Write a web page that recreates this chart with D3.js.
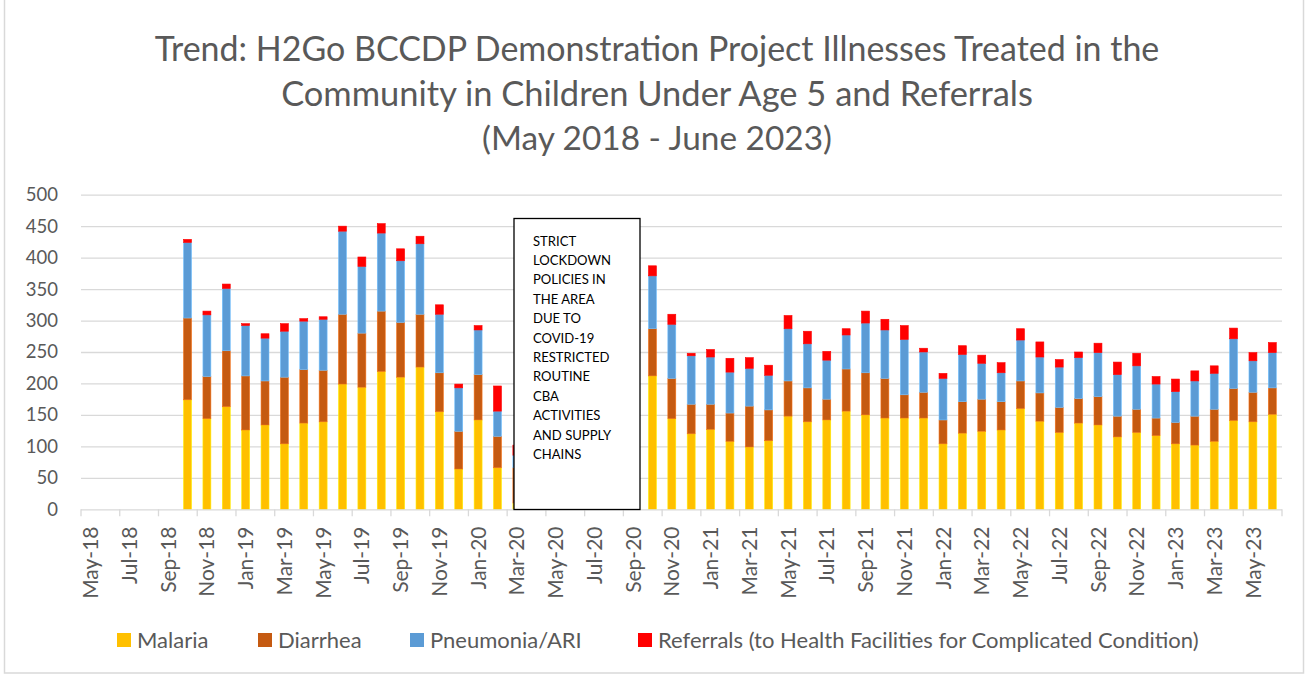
<!DOCTYPE html>
<html>
<head>
<meta charset="utf-8">
<script src="https://cdn.jsdelivr.net/npm/d3@7"></script>
<style>
  html, body { margin: 0; padding: 0; background: #fff; }
  svg { display: block; }
  text { font-family: Lato, "Open Sans", sans-serif; }
</style>
</head>
<body>
<svg id="chart" width="1307" height="677"></svg>
<script>
const months = ["May-18","Jun-18","Jul-18","Aug-18","Sep-18","Oct-18","Nov-18","Dec-18",
  "Jan-19","Feb-19","Mar-19","Apr-19","May-19","Jun-19","Jul-19","Aug-19","Sep-19","Oct-19","Nov-19","Dec-19",
  "Jan-20","Feb-20","Mar-20","Apr-20","May-20","Jun-20","Jul-20","Aug-20","Sep-20","Oct-20","Nov-20","Dec-20",
  "Jan-21","Feb-21","Mar-21","Apr-21","May-21","Jun-21","Jul-21","Aug-21","Sep-21","Oct-21","Nov-21","Dec-21",
  "Jan-22","Feb-22","Mar-22","Apr-22","May-22","Jun-22","Jul-22","Aug-22","Sep-22","Oct-22","Nov-22","Dec-22",
  "Jan-23","Feb-23","Mar-23","Apr-23","May-23","Jun-23"];

const malaria = [0,0,0,0,0,174,144,163,
  126,134,104,137,139,199,194,219,210,226,155,64,
  142,66,10,0,0,0,0,0,0,212,144,120,
  127,108,99,109,148,139,142,156,150,145,145,145,
  104,121,124,126,160,140,122,137,134,115,122,117,
  104,102,108,141,139,151];
const diarrhea = [0,0,0,0,0,130,67,89,
  86,70,106,85,82,111,86,96,87,84,62,60,
  72,50,56,0,0,0,0,0,0,75,64,47,
  40,45,65,49,56,54,33,67,67,63,37,41,
  38,50,51,45,44,45,40,39,45,33,37,28,
  34,46,51,51,47,42];
const pneumonia = [0,0,0,0,0,120,98,99,
  80,68,73,77,81,132,106,124,98,112,93,69,
  71,40,20,0,0,0,0,0,0,84,86,77,
  75,65,60,55,83,70,62,54,79,77,88,64,
  66,75,57,46,65,57,64,65,70,66,69,54,
  49,56,57,79,50,56];
const referrals = [0,0,0,0,0,5,6,7,
  3,7,12,4,4,8,15,15,19,12,15,6,
  7,40,16,0,0,0,0,0,0,16,16,4,
  12,22,17,16,21,20,14,10,19,17,22,6,
  8,14,13,16,18,24,12,9,15,20,20,12,
  20,16,12,17,13,16];

const seriesNames = ["Malaria","Diarrhea","Pneumonia/ARI","Referrals (to Health Facilities for Complicated Condition)"];
const seriesColors = ["#FFC000","#C55A11","#5B9BD5","#FF0000"];
const yTicks = [0,50,100,150,200,250,300,350,400,450,500];
const titleLines = ["Trend: H2Go BCCDP Demonstration Project Illnesses Treated in the",
  "Community in Children Under Age 5 and Referrals","(May 2018 - June 2023)"];
const noteLines = ["STRICT","LOCKDOWN","POLICIES IN","THE AREA","DUE TO","COVID-19","RESTRICTED","ROUTINE","CBA","ACTIVITIES","AND SUPPLY","CHAINS"];

const svg = d3.select("#chart");
const textColor = "#595959";
const gridColor = "#d9d9d9";

function fit(t, w) {
  const l = t.node().getComputedTextLength();
  const fs = parseFloat(t.attr("font-size"));
  t.attr("font-size", fs * w / l);
}

// outer border
svg.append("rect").attr("x", 4.5).attr("y", -2).attr("width", 1299).attr("height", 675)
  .attr("fill", "none").attr("stroke", gridColor).attr("stroke-width", 1.5);

const plot = {left: 81, right: 1282, top: 194.7, bottom: 509.3};

const x = d3.scaleBand().domain(months).range([plot.left, plot.right]).paddingInner(0.59).paddingOuter(0.295);
const xEdge = d3.scaleLinear().domain([0, months.length]).range([plot.left, plot.right]);
const y = d3.scaleLinear().domain([0, 500]).range([plot.bottom, plot.top]);

// title
const titleBase = [61, 106, 150];
const titleW = [1005, 752, 350];
titleLines.forEach((s, i) => {
  const t = svg.append("text").attr("x", 657).attr("y", titleBase[i]).attr("text-anchor", "middle")
    .attr("font-size", 30).attr("fill", textColor).text(s);
  fit(t, titleW[i]);
});

// gridlines
const gy = d3.axisLeft(y).tickValues(yTicks.filter(d => d > 0)).tickSize(-(plot.right - plot.left)).tickFormat("");
svg.append("g").attr("transform", `translate(${plot.left},0)`).call(gy)
  .call(g => g.select(".domain").remove())
  .call(g => g.selectAll("line").attr("stroke", gridColor).attr("stroke-width", 1.3));

// y labels
const yl = svg.append("g").attr("transform", `translate(${plot.left},0)`)
  .call(d3.axisLeft(y).tickValues(yTicks).tickSize(0).tickPadding(23));
yl.select(".domain").remove();
yl.selectAll("text").attr("font-size", 18.5).attr("fill", textColor).attr("font-family", "Lato");

// stacked bars
const stackData = months.map((m, i) => ({month: m, s0: malaria[i], s1: diarrhea[i], s2: pneumonia[i], s3: referrals[i]}));
const stack = d3.stack().keys(["s0","s1","s2","s3"])(stackData);
stack.forEach((layer, li) => {
  svg.append("g").selectAll("rect").data(layer.filter(d => d[1] > d[0])).join("rect")
    .attr("x", d => x(d.data.month))
    .attr("width", x.bandwidth())
    .attr("y", d => y(d[1]))
    .attr("height", d => y(d[0]) - y(d[1]))
    .attr("fill", seriesColors[li])
    .attr("stroke", d3.color(seriesColors[li]).brighter(0.6))
    .attr("stroke-width", 0.6);
});

// x axis line + ticks
svg.append("line").attr("x1", plot.left).attr("x2", plot.right).attr("y1", plot.bottom + 0.5).attr("y2", plot.bottom + 0.5)
  .attr("stroke", gridColor).attr("stroke-width", 1.3);
const tickIdx = d3.range(0, months.length + 1, 2);
svg.append("g").selectAll("line").data(tickIdx).join("line")
  .attr("x1", d => xEdge(d)).attr("x2", d => xEdge(d))
  .attr("y1", plot.bottom).attr("y2", plot.bottom + 7)
  .attr("stroke", gridColor).attr("stroke-width", 1.3);

// x labels
const labelMonths = months.filter((m, i) => i % 2 === 0);
svg.append("g").selectAll("text").data(labelMonths).join("text")
  .attr("transform", d => `translate(${x(d) + x.bandwidth() / 2},${526.5}) rotate(-90)`)
  .attr("text-anchor", "end").attr("dy", "0.36em")
  .attr("font-size", 21).attr("fill", textColor).text(d => d);

// note box
const box = svg.append("g");
box.append("rect").attr("x", 514).attr("y", 218.5).attr("width", 126).attr("height", 291)
  .attr("fill", "#fff").attr("stroke", "#000").attr("stroke-width", 1.3);
const probe = box.append("text").attr("font-size", 14).text("LOCKDOWN");
fit(probe, 78);
const noteSize = probe.attr("font-size");
probe.remove();
box.selectAll("text.note").data(noteLines).join("text").attr("class", "note")
  .attr("x", 533).attr("y", (d, i) => 245.5 + i * 19.4)
  .attr("font-size", noteSize).attr("fill", "#000").text(d => d);

// legend
const legX = [117, 258, 410, 638];
const leg = svg.append("g");
seriesNames.forEach((n, i) => {
  leg.append("rect").attr("x", legX[i]).attr("y", 633).attr("width", 14).attr("height", 14).attr("fill", seriesColors[i]);
  leg.append("text").attr("x", legX[i] + 20).attr("y", 647.5).attr("font-size", 22).attr("fill", textColor).text(n);
});
</script>
</body>
</html>
